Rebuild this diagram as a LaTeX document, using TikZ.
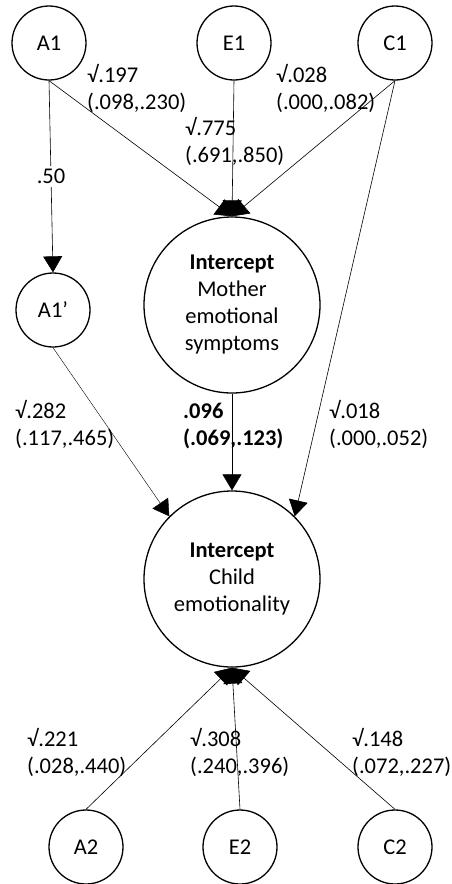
\documentclass[tikz,border=0pt]{standalone}
\usepackage{fontspec}
\setmainfont{Carlito}
\usetikzlibrary{arrows.meta}

\begin{document}
\begin{tikzpicture}[x=1pt,y=-1pt, every node/.style={font=\fontsize{22.5}{27}\selectfont},
  lat/.style={draw,circle,line width=1.3pt,minimum size=74pt,inner sep=0pt},
  big/.style={draw,circle,line width=1.3pt,minimum size=176pt,inner sep=0pt,align=center},
  path/.style={line width=0.6pt,-{Triangle[width=19pt,length=16pt]}},
  est/.style={align=left,anchor=base west,inner sep=0pt}]
\useasboundingbox (0,0) rectangle (451,884);
\node[lat] (A1) at (49,43) {A1};
\node[lat] (E1) at (234,43) {E1};
\node[lat] (C1) at (395,43) {C1};
\node[lat] (A1p) at (53,310) {A1’};
\node[big] (mother) at (232,305) {\textbf{Intercept}\\Mother\\emotional\\symptoms};
\node[big] (child) at (232,579) {\textbf{Intercept}\\Child\\emotionality};
\node[lat] (A2) at (86,847) {A2};
\node[lat] (E2) at (240,847) {E2};
\node[lat] (C2) at (395,847) {C2};

\draw[path] (A1.south) -- node[fill=white,inner sep=3pt] {.50} (A1p.north);
\draw[path] (A1.south) -- (mother.north);
\draw[path] (E1.south) -- (mother.north);
\draw[path] (C1.south) -- (mother.north);
\draw[path] (C1.south) -- (child.45);
\draw[path,line width=0.4pt] (A1p.south) -- (child.135);
\draw[path] (mother.south) -- (child.north);
\draw[path] (A2.north) -- (child.south);
\draw[path] (E2.north) -- (child.south);
\draw[path] (C2.north) -- (child.south);

\node[est] (lA1) at (87,109) {√.197\\(.098,.230)};
\node[est] (lE1) at (185,162) {√.775\\(.691,.850)};
\node[est] (lC1) at (276,109) {√.028\\(.000,.082)};
\node[est] (lA1p) at (15,445) {√.282\\(.117,.465)};
\node[est,font=\fontsize{22.5}{27}\selectfont\bfseries] (lmother) at (183,445) {.096\\(.069,.123)};
\node[est] (lC1c) at (329,445) {√.018\\(.000,.052)};
\node[est] (lA2) at (27,773) {√.221\\(.028,.440)};
\node[est] (lE2) at (190,773) {√.308\\(.240,.396)};
\node[est] (lC2) at (352,773) {√.148\\(.072,.227)};
\end{tikzpicture}
\end{document}
